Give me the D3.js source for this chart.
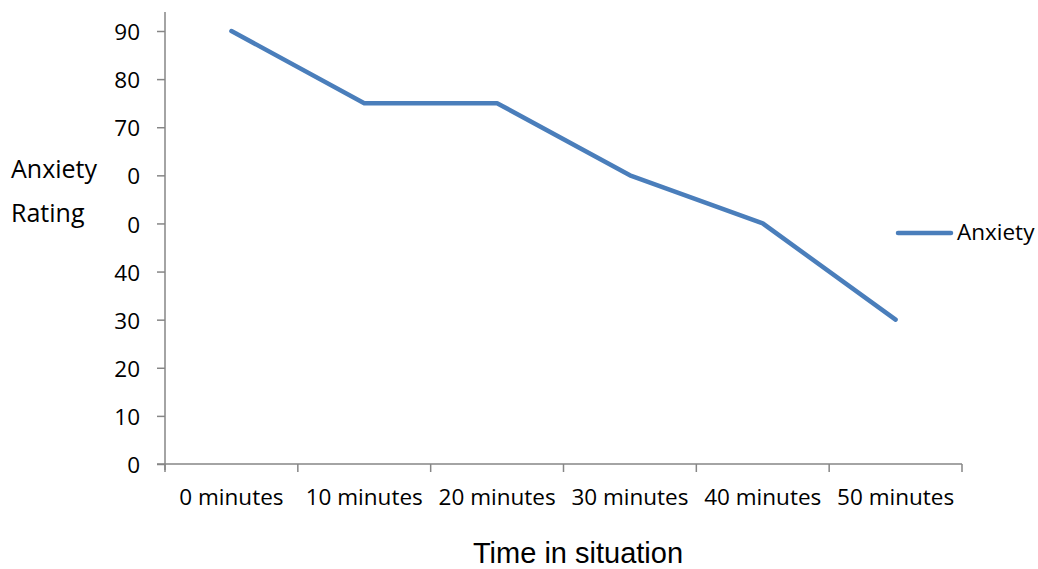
<!DOCTYPE html>
<html><head><meta charset="utf-8">
<script src="https://cdn.jsdelivr.net/npm/d3@7"></script>
<style>body{margin:0;background:#fff}svg{display:block}</style>
</head><body>
<svg id="c" width="1038" height="569"></svg>
<script>
const categories = ["0 minutes","10 minutes","20 minutes","30 minutes","40 minutes","50 minutes"];
const anxiety = [90, 75, 75, 60, 50, 30];
const yTicks = [0,10,20,30,40,50,60,70,80,90];
const yTickLabels = ["0","10","20","30","40","0","0","70","80","90"];
const seriesName = "Anxiety";
const yTitle = ["Anxiety","Rating"];
const xTitle = "Time in situation";

(function(){
const svg = d3.select("#c");
const pLeft = 165, pRight = 962, pTop = 31, pBottom = 464;
const x = d3.scaleBand().domain(categories).range([pLeft, pRight]);
const y = d3.scaleLinear().domain([0, 90]).range([pBottom, pTop]);
const axisColor = "#868686";
const lblFont = "'Open Sans', sans-serif";

// y axis
const ya = svg.append("g").attr("transform", `translate(${pLeft},0)`)
  .call(d3.axisLeft(y).tickValues(yTicks).tickSize(8).tickSizeOuter(0)
    .tickFormat((d,i)=>yTickLabels[i]).tickPadding(17));
ya.select(".domain").remove();
ya.append("line").attr("x1",0).attr("x2",0).attr("y1",12).attr("y2",pBottom+6)
  .attr("stroke",axisColor).attr("stroke-width",1.5);
ya.selectAll(".tick line").attr("stroke",axisColor).attr("stroke-width",1.5);
ya.selectAll(".tick text").attr("fill","#000").attr("dy","0.38em")
  .style("font-family",lblFont).style("font-size","22.5px");

// x axis
const xa = svg.append("g").attr("transform", `translate(0,${pBottom})`)
  .call(d3.axisBottom(x).tickSize(0));
xa.select(".domain").remove();
xa.append("line").attr("x1",pLeft-8).attr("x2",pRight).attr("y1",0).attr("y2",0)
  .attr("stroke",axisColor).attr("stroke-width",1.5);
const bounds = categories.map(c=>x(c)).concat([x(categories[categories.length-1])+x.bandwidth()]);
xa.selectAll(".bt").data(bounds).join("line").attr("class","bt")
  .attr("x1",d=>d).attr("x2",d=>d).attr("y1",0).attr("y2",8)
  .attr("stroke",axisColor).attr("stroke-width",1.5);
xa.selectAll(".tick text").attr("fill","#000").attr("y",41).attr("dy",0)
  .style("font-family",lblFont).style("font-size","22.5px");

// line
const line = d3.line().x((d,i)=>x(categories[i])+x.bandwidth()/2).y(d=>y(d));
svg.append("path").datum(anxiety).attr("d",line).attr("fill","none")
  .attr("stroke","#4a7ebb").attr("stroke-width",4.5).attr("stroke-linejoin","round").attr("stroke-linecap","round");

// legend
svg.append("line").attr("x1",898).attr("x2",951).attr("y1",233).attr("y2",233)
  .attr("stroke","#4a7ebb").attr("stroke-width",4.5).attr("stroke-linecap","round");
svg.append("text").attr("x",957).attr("y",240).text(seriesName)
  .style("font-family",lblFont).style("font-size","22.5px");

// titles
svg.selectAll(".yt").data(yTitle).join("text").attr("class","yt")
  .attr("x",11).attr("y",(d,i)=>178+i*44).text(d=>d)
  .style("font-family",lblFont).style("font-size","25px");
svg.append("text").attr("x",578).attr("y",563).attr("text-anchor","middle")
  .text(xTitle).style("font-family","'Liberation Sans', Arial, sans-serif").style("font-size","29px");
})();
</script>
</body></html>
